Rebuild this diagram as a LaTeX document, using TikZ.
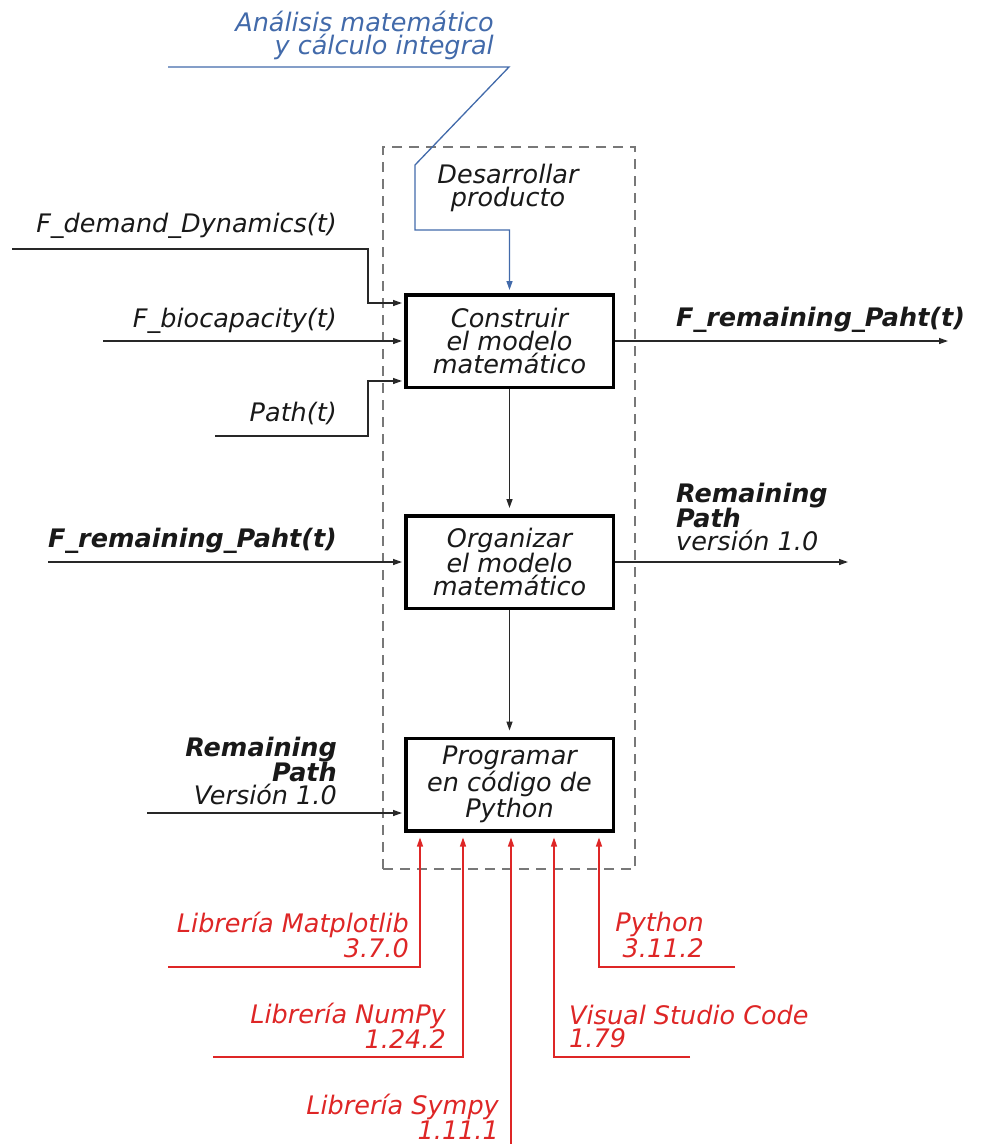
\documentclass[tikz,border=0pt]{standalone}
\usepackage{fontspec}
\setmainfont{DejaVu Sans}[
  ItalicFont={DejaVu Sans Oblique},
  BoldFont={DejaVu Sans Bold},
  BoldItalicFont={DejaVu Sans Bold Oblique}]
\usetikzlibrary{arrows.meta}
\definecolor{inkline}{RGB}{40,40,40}
\definecolor{ctrlblue}{RGB}{66,106,170}
\definecolor{mechred}{RGB}{222,38,38}
\definecolor{groupgray}{RGB}{120,120,120}
\tikzset{
  lbl/.style={inner sep=0pt, font=\fontsize{25.5pt}{23pt}\selectfont\itshape, text=black!90},
  lblb/.style={lbl, font=\fontsize{25.5pt}{23pt}\selectfont\bfseries\itshape},
  proc/.style={draw=black, line width=3.5pt, minimum width=207.5pt, minimum height=92.5pt,
    inner sep=0pt, align=center, text=black!90, font=\fontsize{25.5pt}{23pt}\selectfont\itshape},
  groupbox/.style={draw=groupgray, line width=1.8pt, dash pattern=on 10pt off 7pt,
    minimum width=252pt, minimum height=722pt, inner sep=0pt},
  flow/.style={draw=inkline, line width=1.3pt, -{Triangle[length=9pt,width=6pt]}, shorten >=2pt},
  ctrl/.style={flow, draw=ctrlblue, -{Triangle[length=9pt,width=6pt,fill=ctrlblue]}, shorten >=3pt},
  mech/.style={flow, draw=mechred, -{Triangle[length=9pt,width=6pt,fill=mechred]}, shorten >=5pt},
}
\begin{document}
\begin{tikzpicture}[x=1pt,y=-1pt]
\useasboundingbox (0,0) rectangle (991,1144);

% activity group
\node[groupbox] (grp) at (509,508) {};
\node[lbl, align=center] (grplbl) at (508,188) {Desarrollar\\producto};

% activities
\node[proc] (b1) at (509.5,341) {Construir\\el modelo\\matemático};
\node[proc] (b2) at (509.5,562) {Organizar\\el modelo\\matemático};
\node[proc] (b3) at (509.5,784.5) {Programar\\en código de\\Python};

\draw[flow, shorten >=6pt] (b1.south) -- (b2.north);
\draw[flow, shorten >=6pt] (b2.south) -- (b3.north);

% control
\node[lbl, align=right, anchor=east, text=ctrlblue] (ctl) at (494,35)
  {Análisis matemático\\y cálculo integral};
\coordinate (ctlstart) at (168,67);
\draw[ctrl] (ctlstart) -- (509,67) -- (415,165) -- (415,230) -| (b1.north);

% inputs
\node[lbl, anchor=east] (in1) at (337,226) {F\_demand\_Dynamics(t)};
\coordinate (in1s) at (12,249);
\draw[flow] (in1s) -- (368,249) -- (368,303) -- (b1.west |- 0,303);

\node[lbl, anchor=east] (in2) at (337,321) {F\_biocapacity(t)};
\coordinate (in2s) at (103,341);
\draw[flow] (in2s) -- (b1.west);

\node[lbl, anchor=east] (in3) at (337,413) {Path(t)};
\coordinate (in3s) at (215,436);
\draw[flow] (in3s) -- (368,436) -- (368,381) -- (b1.west |- 0,381);

\node[lblb, anchor=east] (in4) at (337,541) {F\_remaining\_Paht(t)};
\coordinate (in4s) at (48,562);
\draw[flow] (in4s) -- (b2.west);

\node[lbl, anchor=east, align=right] (in5) at (337,771)
  {\bfseries Remaining\\\bfseries Path\\Versión 1.0};
\coordinate (in5s) at (147,813);
\draw[flow] (in5s) -- (b3.west |- 0,813);

% outputs
\node[lblb, anchor=west] (out1) at (676,320) {F\_remaining\_Paht(t)};
\coordinate (out1e) at (950,341);
\draw[flow] (b1.east) -- (out1e);

\node[lbl, anchor=west, align=left] (out2) at (676,517)
  {\bfseries Remaining\\\bfseries Path\\versión 1.0};
\coordinate (out2e) at (850,562);
\draw[flow] (b2.east) -- (out2e);

% mechanisms
\node[lbl, anchor=east, align=right, text=mechred] (m1) at (409,935)
  {Librería Matplotlib\\3.7.0};
\coordinate (m1s) at (168,967);
\draw[mech] (m1s) -- (420,967) -- (b3.south -| 420,0);

\node[lbl, anchor=east, align=right, text=mechred] (m2) at (446,1026)
  {Librería NumPy\\1.24.2};
\coordinate (m2s) at (213,1057);
\draw[mech] (m2s) -- (463,1057) -- (b3.south -| 463,0);

\node[lbl, anchor=east, align=right, text=mechred] (m3) at (499,1117)
  {Librería Sympy\\1.11.1};
\coordinate (m3s) at (511,1144);
\draw[mech] (m3s) -- (b3.south -| 511,0);

\node[lbl, anchor=west, align=left, text=mechred] (m4) at (569,1026)
  {Visual Studio Code\\1.79};
\coordinate (m4s) at (690,1057);
\draw[mech] (m4s) -- (554,1057) -- (b3.south -| 554,0);

\node[lbl, anchor=east, align=right, text=mechred] (m5) at (704,935)
  {Python\\3.11.2};
\coordinate (m5s) at (735,967);
\draw[mech] (m5s) -- (599,967) -- (b3.south -| 599,0);
\end{tikzpicture}
\end{document}
